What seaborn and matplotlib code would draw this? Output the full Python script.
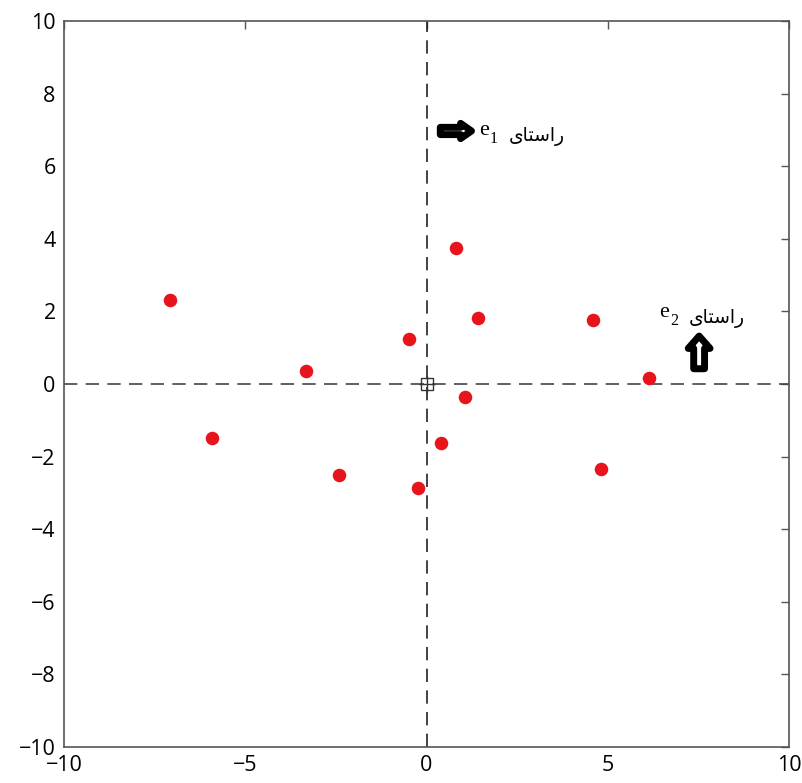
import matplotlib
matplotlib.use("Agg")
import matplotlib.pyplot as plt
import seaborn as sns
import pandas as pd
from matplotlib.patches import FancyArrow

x_vals = [-7.08, -5.92, -3.32, -2.41, -0.48, -0.23, 0.40, 0.81, 1.06, 1.42, 4.59, 4.81, 6.14]
y_vals = [2.31, -1.49, 0.36, -2.51, 1.24, -2.87, -1.63, 3.75, -0.36, 1.82, 1.76, -2.34, 0.17]
x_ticks = [-10, -5, 0, 5, 10]
y_ticks = [-10, -8, -6, -4, -2, 0, 2, 4, 6, 8, 10]

# Persian word "راستای" in visual (shaped, left-to-right) order
label_word = "\uFBFC\uFE8E\uFE98\uFEB3\uFE8D\uFEAD"

sns.set_style("white")
plt.rcParams['font.family'] = ['Open Sans', 'DejaVu Sans']
plt.rcParams['text.color'] = 'black'
plt.rcParams['xtick.color'] = 'black'
plt.rcParams['ytick.color'] = 'black'

fig = plt.figure(figsize=(8.03, 7.83), dpi=100)
ax = fig.add_axes([0.0797, 0.046, 0.9029, 0.9272])

df = pd.DataFrame({"x": x_vals, "y": y_vals})
ax.axhline(0, color="#444444", lw=1.2, dashes=(8, 5), zorder=1)
ax.axvline(0, color="#222222", lw=1.2, dashes=(8, 5), zorder=1)
sns.scatterplot(data=df, x="x", y="y", ax=ax, color="#e8141c", s=95,
                edgecolor="#e8141c", linewidth=0, zorder=3)
ax.plot([0], [0], marker="s", ms=9, mfc="none", mec="#333333", mew=1.0, zorder=4)
ax.plot([0], [0], marker="+", ms=11, mec="#333333", mew=1.0, zorder=4)

ax.set_xlim(-10, 10)
ax.set_ylim(-10, 10)
ax.set_xticks(x_ticks)
ax.set_yticks(y_ticks)
ax.set_xticklabels([f"{t}".replace("-", "\u2212") for t in x_ticks])
ax.set_yticklabels([f"{t}".replace("-", "\u2212") for t in y_ticks])
ax.tick_params(direction="in", length=6, width=1, color="#555555",
               labelcolor="black", top=True, right=True, labelsize=15.5, pad=6)
for sp in ax.spines.values():
    sp.set_color("#555555")
    sp.set_linewidth(1.2)
ax.set_xlabel("")
ax.set_ylabel("")

# arrows
ax.add_patch(FancyArrow(0.38, 6.97, 0.56, 0, width=0.2, head_width=0.42,
                        head_length=0.3, length_includes_head=False,
                        facecolor="white", edgecolor="black", lw=5, zorder=5,
                        joinstyle="round"))
ax.add_patch(FancyArrow(7.52, 0.42, 0, 0.56, width=0.3, head_width=0.6,
                        head_length=0.34, length_includes_head=False,
                        facecolor="white", edgecolor="black", lw=5, zorder=5,
                        joinstyle="round"))

serif = ['Liberation Serif', 'DejaVu Sans']
for (tx, ty, sub) in [(1.46, 6.86, "1"), (6.43, 1.85, "2")]:
    t1 = ax.text(tx, ty, "e", fontsize=16, va="baseline", ha="left", family=serif, zorder=6)
    ax.annotate(sub, xy=(1, 0), xycoords=t1, xytext=(0.3, -2.2), textcoords="offset points",
                fontsize=11.5, va="baseline", ha="left", family=serif, zorder=6)
    ax.annotate(label_word, xy=(1, 0), xycoords=t1, xytext=(14, -0.5), textcoords="offset points",
                fontsize=13.5, va="baseline", ha="left", family=serif, zorder=6)

fig.savefig("out.png", dpi=100)
